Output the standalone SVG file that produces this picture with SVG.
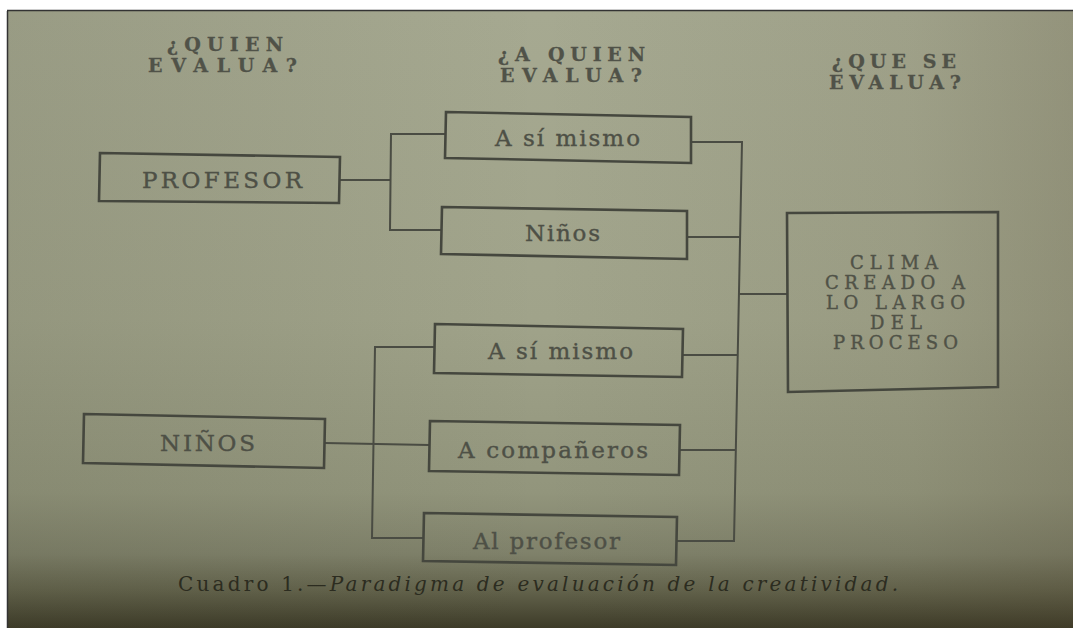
<svg xmlns="http://www.w3.org/2000/svg" width="1073" height="628" viewBox="0 0 1073 628">
<defs>
<linearGradient id="bg" x1="0" y1="0" x2="0" y2="1">
<stop offset="0" stop-color="#a6a991"/>
<stop offset="0.5" stop-color="#a0a38a"/>
<stop offset="0.78" stop-color="#92957c"/>
<stop offset="0.88" stop-color="#7f816a"/>
<stop offset="0.94" stop-color="#62624b"/>
<stop offset="1" stop-color="#3d3b28"/>
</linearGradient>
<linearGradient id="side" x1="0" y1="0" x2="1" y2="0">
<stop offset="0" stop-color="#3a3a28" stop-opacity="0.12"/>
<stop offset="0.5" stop-color="#3a3a28" stop-opacity="0"/>
<stop offset="0.85" stop-color="#4a3e28" stop-opacity="0.08"/>
<stop offset="1" stop-color="#4a3e28" stop-opacity="0.2"/>
</linearGradient>
<style>
.box{fill:none;stroke:#45473e;stroke-width:2.6}
.ln{fill:none;stroke:#4a4c43;stroke-width:2}
.t{font-family:"DejaVu Serif","Liberation Serif",serif;fill:#4e5046;stroke:#4e5046;stroke-width:0.4;font-size:23px}
.h{font-family:"DejaVu Serif","Liberation Serif",serif;fill:#505248;stroke:#505248;stroke-width:0.3;font-size:19px;font-weight:bold}
.c{font-family:"DejaVu Serif","Liberation Serif",serif;fill:#505247;stroke:#505247;stroke-width:0.4;font-size:18px}
.cap{font-family:"DejaVu Serif","Liberation Serif",serif;fill:#2c2c20;font-size:20px}
</style>
</defs>
<rect width="1073" height="628" fill="#ffffff"/>
<rect x="8" y="11" width="1065" height="617" fill="url(#bg)"/>
<rect x="8" y="11" width="1065" height="617" fill="url(#side)"/>
<line x1="7.5" y1="11" x2="7.5" y2="628" stroke="#333" stroke-width="1.5"/>
<line x1="7" y1="10.5" x2="1073" y2="10.5" stroke="#333" stroke-width="1.5"/>

<g id="headers">
<text class="h" x="167" y="51" textLength="116" lengthAdjust="spacing">¿QUIEN</text>
<text class="h" x="148" y="72" textLength="149" lengthAdjust="spacing">EVALUA?</text>
<text class="h" x="498" y="61" textLength="147" lengthAdjust="spacing">¿A QUIEN</text>
<text class="h" x="500" y="82" textLength="142" lengthAdjust="spacing">EVALUA?</text>
<text class="h" x="832" y="68" textLength="124" lengthAdjust="spacing">¿QUE SE</text>
<text class="h" x="829" y="89" textLength="132" lengthAdjust="spacing">EVALUA?</text>
</g>

<g id="connectors">
<polyline class="ln" points="340,180 390,180"/>
<polyline class="ln" points="446,134 391,134 390,230 442,230"/>
<polyline class="ln" points="692,142 742,142 734,541 676,541"/>
<line class="ln" x1="688" y1="237" x2="741" y2="237"/>
<line class="ln" x1="683" y1="355" x2="737" y2="355"/>
<line class="ln" x1="680" y1="450" x2="735" y2="450"/>
<line class="ln" x1="739" y1="294" x2="788" y2="294"/>
<polyline class="ln" points="435,347 375,347 372,538 423,538"/>
<line class="ln" x1="325" y1="443" x2="429" y2="445"/>
</g>

<g id="n-profesor">
<polygon class="box" points="100,153 340,157 339,203 99,201"/>
<text class="t" x="142" y="188" textLength="160" lengthAdjust="spacing">PROFESOR</text>
</g>
<g id="n-asimismo1">
<polygon class="box" points="446,112 691,117 691,163 445,158"/>
<text class="t" x="495" y="146" textLength="145" lengthAdjust="spacing">A sí mismo</text>
</g>
<g id="n-ninos1">
<polygon class="box" points="442,207 687,211 687,259 441,254"/>
<text class="t" x="525" y="241" textLength="75" lengthAdjust="spacing">Niños</text>
</g>
<g id="n-clima">
<polygon class="box" points="787,213 998,212 998,387 788,392"/>
<text class="c" x="850" y="269" textLength="88" lengthAdjust="spacing">CLIMA</text>
<text class="c" x="825" y="289" textLength="140" lengthAdjust="spacing">CREADO A</text>
<text class="c" x="826" y="309" textLength="139" lengthAdjust="spacing">LO LARGO</text>
<text class="c" x="870" y="329" textLength="52" lengthAdjust="spacing">DEL</text>
<text class="c" x="833" y="349" textLength="125" lengthAdjust="spacing">PROCESO</text>
</g>
<g id="n-asimismo2">
<polygon class="box" points="435,324 683,329 682,377 434,373"/>
<text class="t" x="488" y="359" textLength="145" lengthAdjust="spacing">A sí mismo</text>
</g>
<g id="n-ninos2">
<polygon class="box" points="84,414 325,419 324,468 83,463"/>
<text class="t" x="160" y="451" textLength="95" lengthAdjust="spacing">NIÑOS</text>
</g>
<g id="n-companeros">
<polygon class="box" points="430,421 680,425 679,475 429,471"/>
<text class="t" x="458" y="458" textLength="190" lengthAdjust="spacing">A compañeros</text>
</g>
<g id="n-alprofesor">
<polygon class="box" points="424,513 677,517 676,565 423,561"/>
<text class="t" x="473" y="549" textLength="147" lengthAdjust="spacing">Al profesor</text>
</g>

<g id="caption">
<text class="cap" x="178" y="591" textLength="720" lengthAdjust="spacing">Cuadro 1.—<tspan font-style="italic">Paradigma de evaluación de la creatividad.</tspan></text>
</g>
</svg>
